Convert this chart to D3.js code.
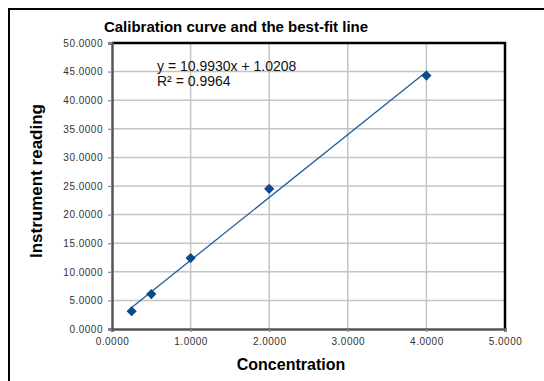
<!DOCTYPE html>
<html>
<head>
<meta charset="utf-8">
<script src="https://cdn.jsdelivr.net/npm/d3@7"></script>
<style>
body { margin: 0; background: #fff; }
text { font-family: "Liberation Sans", Arial, sans-serif; }
</style>
</head>
<body>
<div id="chart"></div>
<script>
// measured concentrations and readings
var concentration = [0.25, 0.5, 1.0, 2.0, 4.0];
var reading = [3.1, 6.1, 12.4, 24.5, 44.3];
// trendline as printed on the chart
var slope = 10.9930, intercept = 1.0208, rSquared = 0.9964;
var xTicks = [0, 1, 2, 3, 4, 5];
var yTicks = [0, 5, 10, 15, 20, 25, 30, 35, 40, 45, 50];
var chartTitle = "Calibration curve and the best-fit line";
var xTitle = "Concentration", yTitle = "Instrument reading";

var width = 544, height = 381;
var plotLeft = 112, plotRight = 505, plotTop = 43, plotBottom = 329;

var svg = d3.select("#chart")
.append("svg")
.attr("width", width)
.attr("height", height);

// outer chart frame (runs past the right/bottom edge of the picture)
svg.append("rect")
.attr("x", 9).attr("y", 9)
.attr("width", 600).attr("height", 500)
.attr("fill", "#fff")
.attr("stroke", "#000")
.attr("stroke-width", 2);

var x = d3.scaleLinear().domain([0, 5]).range([plotLeft, plotRight]);
var y = d3.scaleLinear().domain([0, 50]).range([plotBottom, plotTop]);

// gridlines
svg.append("g")
.selectAll("line")
.data(yTicks.slice(1))
.enter()
.append("line")
.attr("x1", plotLeft).attr("x2", plotRight)
.attr("y1", function(d) { return y(d); })
.attr("y2", function(d) { return y(d); })
.style("stroke", "#c4c4c4")
.style("stroke-width", 1.5);

svg.append("g")
.selectAll("line")
.data(xTicks.slice(1))
.enter()
.append("line")
.attr("y1", plotTop).attr("y2", plotBottom)
.attr("x1", function(d) { return x(d); })
.attr("x2", function(d) { return x(d); })
.style("stroke", "#c4c4c4")
.style("stroke-width", 1.5);

// plot frame: black on top/right, dark grey axes
svg.append("path")
.attr("d", "M" + plotLeft + "," + plotTop + "H" + plotRight + "V" + plotBottom)
.attr("fill", "none")
.attr("stroke", "#000")
.attr("stroke-width", 2.5);

var fmt = d3.format(".4f");

var xAxis = svg.append("g")
.attr("transform", "translate(0," + plotBottom + ")")
.call(d3.axisBottom(x).tickValues(xTicks).tickFormat(fmt).tickSize(3).tickPadding(4));
var yAxis = svg.append("g")
.attr("transform", "translate(" + plotLeft + ",0)")
.call(d3.axisLeft(y).tickValues(yTicks).tickFormat(fmt).tickSize(4).tickPadding(5));

[xAxis, yAxis].forEach(function(ax) {
    ax.select(".domain").attr("stroke", "#555").attr("stroke-width", 2.5);
    ax.selectAll(".tick line").attr("stroke", "#888").attr("stroke-width", 1.2);
    ax.selectAll("text")
    .attr("fill", "#333")
    .style("font-size", "10px")
    .style("letter-spacing", "0.5px")
    .style("font-family", "Liberation Sans, Arial, sans-serif");
});
xAxis.selectAll("text").attr("dy", "0.9em");

// best-fit line over the data range
var xr = d3.extent(concentration);
svg.append("line")
.attr("x1", x(xr[0])).attr("y1", y(slope * xr[0] + intercept))
.attr("x2", x(xr[1])).attr("y2", y(slope * xr[1] + intercept))
.style("stroke", "#1f5c9c")
.style("stroke-width", 1.3);

// data points as diamonds
svg.append("g")
.selectAll("path")
.data(concentration)
.enter()
.append("path")
.attr("d", d3.symbol(d3.symbolSquare, 52))
.attr("transform", function(d, i) {
    return "translate(" + x(d) + "," + y(reading[i]) + ") rotate(45)";
})
.attr("fill", "#0b4a8b");

// trendline label
svg.append("text")
.attr("x", 157).attr("y", 71)
.style("font-size", "14px")
.attr("fill", "#111")
.text("y = " + slope.toFixed(4) + "x + " + intercept.toFixed(4));
svg.append("text")
.attr("x", 157).attr("y", 86)
.style("font-size", "14px")
.attr("fill", "#111")
.text("R\u00b2 = " + rSquared.toFixed(4));

// titles
svg.append("text")
.attr("x", 236).attr("y", 32)
.attr("text-anchor", "middle")
.style("font-size", "15px")
.style("font-weight", "bold")
.text(chartTitle);

svg.append("text")
.attr("x", 291).attr("y", 370)
.attr("text-anchor", "middle")
.style("font-size", "16px")
.style("font-weight", "bold")
.text(xTitle);

svg.append("text")
.attr("transform", "translate(42,181) rotate(-90)")
.attr("text-anchor", "middle")
.style("font-size", "17px")
.style("font-weight", "bold")
.text(yTitle);
</script>
</body>
</html>
